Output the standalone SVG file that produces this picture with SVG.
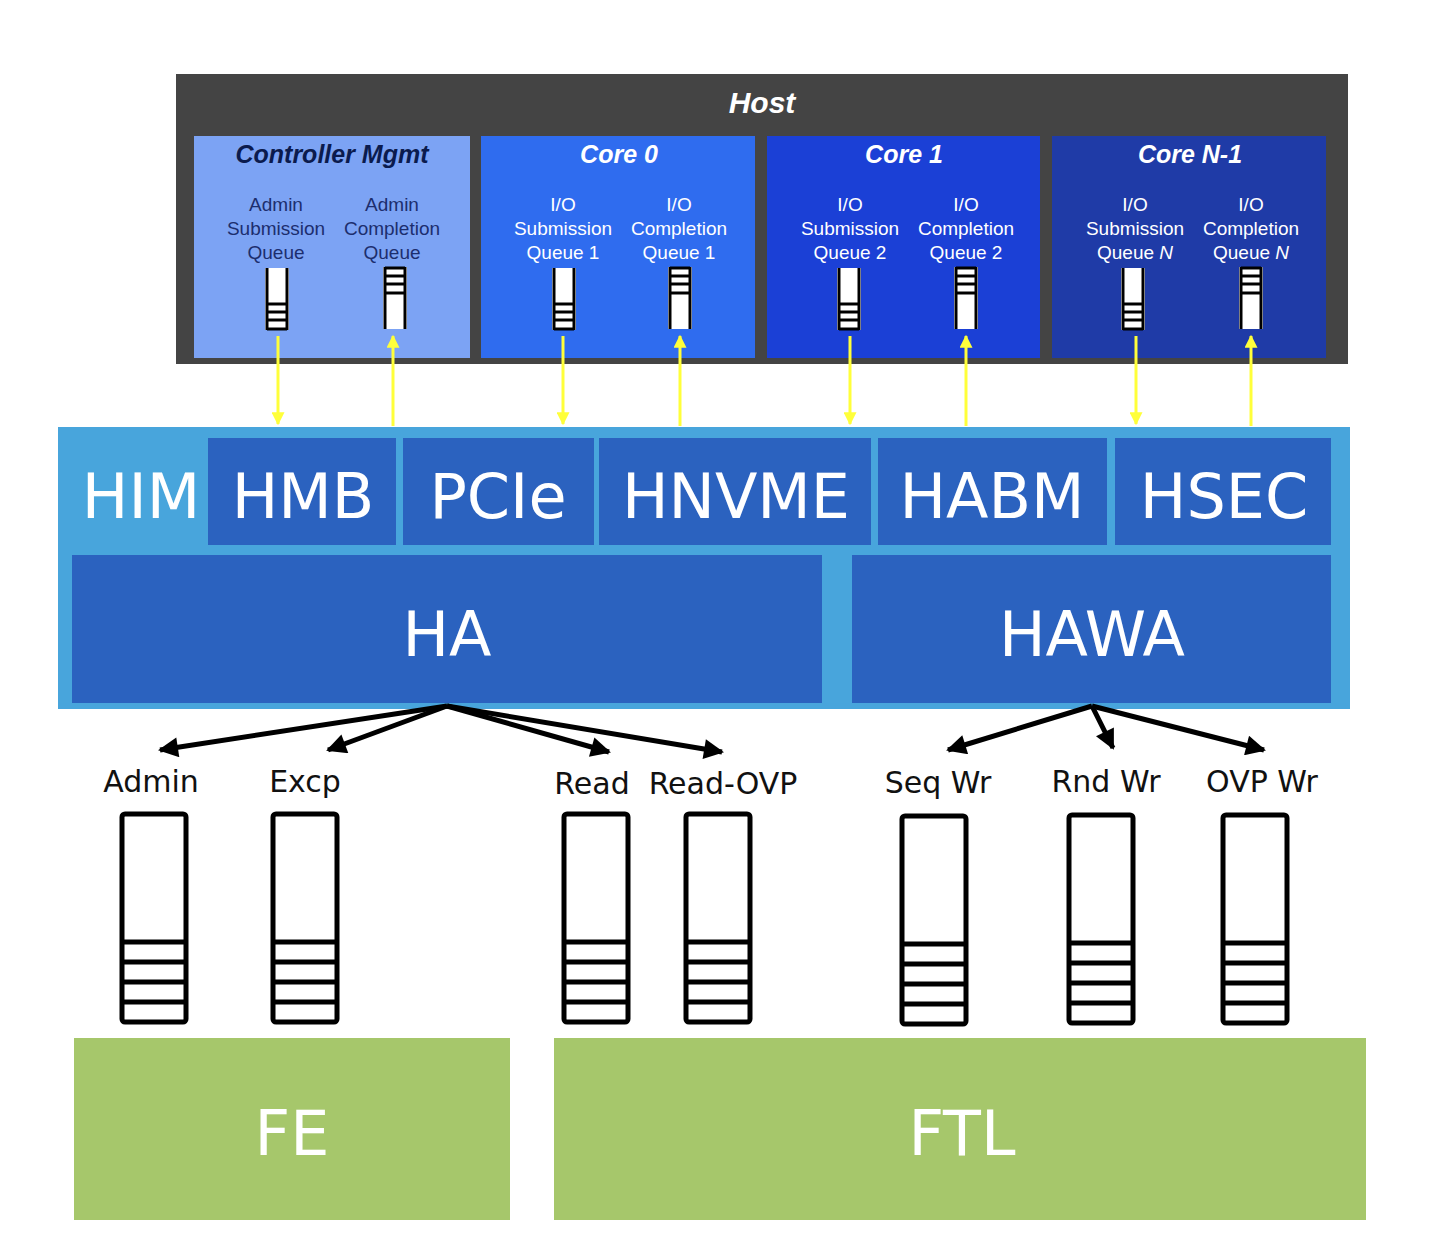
<svg xmlns="http://www.w3.org/2000/svg" width="1436" height="1252" viewBox="0 0 1436 1252">
<defs>
<style>
.ttl{font-family:"Liberation Sans",Arial,sans-serif;font-weight:bold;font-style:italic;text-anchor:middle}
.ql{font-family:"Liberation Sans",Arial,sans-serif;font-size:19px;text-anchor:middle}
.big{font-family:"DejaVu Sans",Verdana,sans-serif;font-size:62px;fill:#ffffff;text-anchor:middle}
.lbl{font-family:"DejaVu Sans",Verdana,sans-serif;font-size:30px;fill:#111111;text-anchor:middle}
.blk{stroke:#000;stroke-width:5;fill:none}
.yel{stroke:#FFFF3A;stroke-width:3;fill:none}
.qbox{fill:#fff;stroke:#000;stroke-width:5}
.slot{stroke:#000;stroke-width:5}
.mini{fill:#fff}
.minil{stroke:#000;stroke-width:3}
</style>
<marker id="ah" viewBox="0 0 10 10" refX="9" refY="5" markerWidth="24" markerHeight="20" markerUnits="userSpaceOnUse" orient="auto">
<path d="M0,0 L10,5 L0,10 Z" fill="#000"/>
</marker>
<marker id="ay" viewBox="0 0 10 10" refX="9" refY="5" markerWidth="16" markerHeight="13" markerUnits="userSpaceOnUse" orient="auto">
<path d="M0,0 L10,5 L0,10 Z" fill="#FFFF3A"/>
</marker>
<g id="subq">
<rect class="mini" x="-12" y="0" width="24" height="62"/>
<line class="minil" x1="-10" y1="0" x2="-10" y2="62"/>
<line class="minil" x1="10" y1="0" x2="10" y2="62"/>
<line class="minil" x1="-10" y1="36" x2="10" y2="36"/>
<line class="minil" x1="-10" y1="44" x2="10" y2="44"/>
<line class="minil" x1="-10" y1="52" x2="10" y2="52"/>
<line class="minil" x1="-10" y1="61" x2="10" y2="61"/>
</g>
<g id="cmpq">
<rect class="mini" x="-12" y="0" width="24" height="62"/>
<line class="minil" x1="-10" y1="0" x2="-10" y2="62"/>
<line class="minil" x1="10" y1="0" x2="10" y2="62"/>
<line class="minil" x1="-10" y1="1" x2="10" y2="1"/>
<line class="minil" x1="-10" y1="9" x2="10" y2="9"/>
<line class="minil" x1="-10" y1="17" x2="10" y2="17"/>
<line class="minil" x1="-10" y1="26" x2="10" y2="26"/>
</g>
<g id="bigq">
<rect class="qbox" x="0" y="0" width="64" height="208" rx="3"/>
<line class="slot" x1="0" y1="128" x2="64" y2="128"/>
<line class="slot" x1="0" y1="148" x2="64" y2="148"/>
<line class="slot" x1="0" y1="168" x2="64" y2="168"/>
<line class="slot" x1="0" y1="188" x2="64" y2="188"/>
</g>
</defs>
<rect width="1436" height="1252" fill="#ffffff"/>

<g id="host">
<rect x="176" y="74" width="1172" height="290" fill="#444444"/>
<text class="ttl" x="762" y="113" font-size="30" fill="#ffffff">Host</text>
</g>

<g id="ctrl-mgmt">
<rect x="194" y="136" width="276" height="222" fill="#7CA3F4"/>
<text class="ttl" x="332" y="163" font-size="25" fill="#0B1B4E">Controller Mgmt</text>
<text class="ql" fill="#1C2E6E"><tspan x="276" y="211">Admin</tspan><tspan x="276" y="235">Submission</tspan><tspan x="276" y="259">Queue</tspan></text>
<text class="ql" fill="#1C2E6E"><tspan x="392" y="211">Admin</tspan><tspan x="392" y="235">Completion</tspan><tspan x="392" y="259">Queue</tspan></text>
<use href="#subq" x="277" y="268"/>
<use href="#cmpq" x="395" y="267"/>
</g>

<g id="core0">
<rect x="481" y="136" width="274" height="222" fill="#2F6CEF"/>
<text class="ttl" x="619" y="163" font-size="25" fill="#ffffff">Core 0</text>
<text class="ql" fill="#ffffff"><tspan x="563" y="211">I/O</tspan><tspan x="563" y="235">Submission</tspan><tspan x="563" y="259">Queue 1</tspan></text>
<text class="ql" fill="#ffffff"><tspan x="679" y="211">I/O</tspan><tspan x="679" y="235">Completion</tspan><tspan x="679" y="259">Queue 1</tspan></text>
<use href="#subq" x="564" y="268"/>
<use href="#cmpq" x="680" y="267"/>
</g>

<g id="core1">
<rect x="767" y="136" width="273" height="222" fill="#1B40D6"/>
<text class="ttl" x="904" y="163" font-size="25" fill="#ffffff">Core 1</text>
<text class="ql" fill="#ffffff"><tspan x="850" y="211">I/O</tspan><tspan x="850" y="235">Submission</tspan><tspan x="850" y="259">Queue 2</tspan></text>
<text class="ql" fill="#ffffff"><tspan x="966" y="211">I/O</tspan><tspan x="966" y="235">Completion</tspan><tspan x="966" y="259">Queue 2</tspan></text>
<use href="#subq" x="849" y="268"/>
<use href="#cmpq" x="966" y="267"/>
</g>

<g id="coreN">
<rect x="1052" y="136" width="274" height="222" fill="#1F3BA7"/>
<text class="ttl" x="1190" y="163" font-size="25" fill="#ffffff">Core N-1</text>
<text class="ql" fill="#ffffff"><tspan x="1135" y="211">I/O</tspan><tspan x="1135" y="235">Submission</tspan><tspan x="1135" y="259">Queue <tspan font-style="italic">N</tspan></tspan></text>
<text class="ql" fill="#ffffff"><tspan x="1251" y="211">I/O</tspan><tspan x="1251" y="235">Completion</tspan><tspan x="1251" y="259">Queue <tspan font-style="italic">N</tspan></tspan></text>
<use href="#subq" x="1133" y="268"/>
<use href="#cmpq" x="1251" y="267"/>
</g>

<g id="him">
<rect x="58" y="427" width="1292" height="282" fill="#48A5DC"/>
<text class="big" x="141" y="518">HIM</text>
</g>
<g id="hmb"><rect x="208" y="438" width="188" height="107" fill="#2B62BF"/><text class="big" x="303" y="518">HMB</text></g>
<g id="pcie"><rect x="403" y="438" width="191" height="107" fill="#2B62BF"/><text class="big" x="498" y="518">PCIe</text></g>
<g id="hnvme"><rect x="599" y="438" width="272" height="107" fill="#2B62BF"/><text class="big" x="736" y="518">HNVME</text></g>
<g id="habm"><rect x="878" y="438" width="229" height="107" fill="#2B62BF"/><text class="big" x="992" y="518">HABM</text></g>
<g id="hsec"><rect x="1115" y="438" width="216" height="107" fill="#2B62BF"/><text class="big" x="1224" y="518">HSEC</text></g>
<g id="ha"><rect x="72" y="555" width="750" height="148" fill="#2B62BF"/><text class="big" x="447" y="656">HA</text></g>
<g id="hawa"><rect x="852" y="555" width="479" height="148" fill="#2B62BF"/><text class="big" x="1092" y="656">HAWA</text></g>

<g id="q-admin"><text class="lbl" x="151" y="792">Admin</text><use href="#bigq" x="122" y="814"/></g>
<g id="q-excp"><text class="lbl" x="305" y="792">Excp</text><use href="#bigq" x="273" y="814"/></g>
<g id="q-read"><text class="lbl" x="592" y="794">Read</text><use href="#bigq" x="564" y="814"/></g>
<g id="q-readovp"><text class="lbl" x="723" y="794">Read-OVP</text><use href="#bigq" x="686" y="814"/></g>
<g id="q-seqwr"><text class="lbl" x="938" y="793">Seq Wr</text><use href="#bigq" x="902" y="816"/></g>
<g id="q-rndwr"><text class="lbl" x="1106" y="792">Rnd Wr</text><use href="#bigq" x="1069" y="815"/></g>
<g id="q-ovpwr"><text class="lbl" x="1262" y="792">OVP Wr</text><use href="#bigq" x="1223" y="815"/></g>

<g id="fe"><rect x="74" y="1038" width="436" height="182" fill="#A6C76B"/><text class="big" x="292" y="1155">FE</text></g>
<g id="ftl"><rect x="554" y="1038" width="812" height="182" fill="#A6C76B"/><text class="big" x="962" y="1155">FTL</text></g>

<g id="connectors">
<line class="yel" x1="278" y1="336" x2="278" y2="424" marker-end="url(#ay)"/>
<line class="yel" x1="393" y1="426" x2="393" y2="336" marker-end="url(#ay)"/>
<line class="yel" x1="563" y1="336" x2="563" y2="424" marker-end="url(#ay)"/>
<line class="yel" x1="680" y1="426" x2="680" y2="336" marker-end="url(#ay)"/>
<line class="yel" x1="850" y1="336" x2="850" y2="424" marker-end="url(#ay)"/>
<line class="yel" x1="966" y1="426" x2="966" y2="336" marker-end="url(#ay)"/>
<line class="yel" x1="1136" y1="336" x2="1136" y2="424" marker-end="url(#ay)"/>
<line class="yel" x1="1251" y1="426" x2="1251" y2="336" marker-end="url(#ay)"/>

<line class="blk" x1="447" y1="706" x2="160" y2="750" marker-end="url(#ah)"/>
<line class="blk" x1="447" y1="706" x2="328" y2="750" marker-end="url(#ah)"/>
<line class="blk" x1="447" y1="706" x2="609" y2="752" marker-end="url(#ah)"/>
<line class="blk" x1="447" y1="706" x2="722" y2="752" marker-end="url(#ah)"/>
<line class="blk" x1="1092" y1="706" x2="948" y2="750" marker-end="url(#ah)"/>
<line class="blk" x1="1092" y1="706" x2="1113" y2="748" marker-end="url(#ah)"/>
<line class="blk" x1="1092" y1="706" x2="1264" y2="750" marker-end="url(#ah)"/>
</g>
</svg>
